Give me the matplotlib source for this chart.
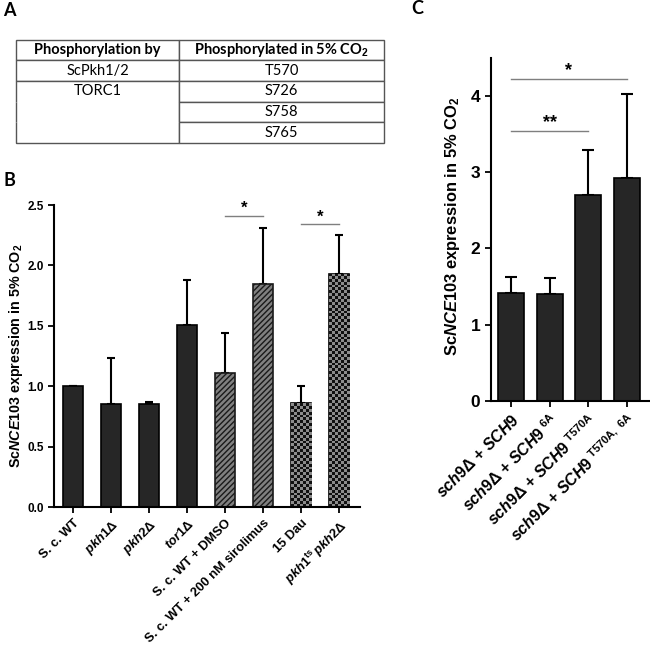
import numpy as np
import matplotlib
matplotlib.use("Agg")
import matplotlib.pyplot as plt
from matplotlib.colors import ListedColormap

# ---------------- data ----------------
tab_header = ["Phosphorylation by", "Phosphorylated in 5% CO$_\\mathrm{2}$"]
tab_kinase = ["ScPkh1/2", "TORC1", "", ""]
tab_sites = ["T570", "S726", "S758", "S765"]

b_labels = ["S. c. WT", r"$\mathit{pkh1Δ}$", r"$\mathit{pkh2Δ}$", r"$\mathit{tor1Δ}$",
            "S. c. WT + DMSO", "S. c. WT + 200 nM sirolimus", "15 Dau",
            r"$\mathit{pkh1}^{\mathsf{ts}}\,\mathit{pkh2Δ}$"]
b_values = [1.00, 0.85, 0.85, 1.51, 1.11, 1.85, 0.86, 1.93]
b_err = [0.00, 0.385, 0.02, 0.37, 0.33, 0.46, 0.145, 0.32]
b_fill = ["solid", "solid", "solid", "solid", "hatch", "hatch", "check", "check"]
b_sig = [(4, 5, 2.41, "*"), (6, 7, 2.34, "*")]
b_yticks = [0.0, 0.5, 1.0, 1.5, 2.0, 2.5]

c_labels = [r"$\mathit{sch9Δ}$ + $\mathit{SCH9}$",
            r"$\mathit{sch9Δ}$ + $\mathit{SCH9}^{\ \mathsf{6A}}$",
            r"$\mathit{sch9Δ}$ + $\mathit{SCH9}^{\ \mathsf{T570A}}$",
            r"$\mathit{sch9Δ}$ + $\mathit{SCH9}^{\ \mathsf{T570A,\ 6A}}$"]
c_values = [1.41, 1.40, 2.70, 2.92]
c_err = [0.22, 0.21, 0.59, 1.11]
c_sig = [(0, 3, 4.22, "*"), (0, 2, 3.54, "**")]
c_yticks = [0, 1, 2, 3, 4]

# ---------------- style ----------------
plt.rcParams["font.family"] = ["Liberation Sans", "DejaVu Sans"]
plt.rcParams["font.weight"] = "bold"
plt.rcParams["mathtext.fontset"] = "custom"
plt.rcParams["mathtext.rm"] = "Liberation Sans:bold"
plt.rcParams["mathtext.it"] = "Liberation Sans:italic:bold"
plt.rcParams["mathtext.bf"] = "Liberation Sans:bold"
plt.rcParams["mathtext.sf"] = "Liberation Sans"
plt.rcParams["hatch.linewidth"] = 1.0

W, H = 650, 646
fig = plt.figure(figsize=(W / 100, H / 100), dpi=100)

DARK = "#262626"
GRAY = "#808080"


def style_axes(ax, lw=1.5):
    for s in ["top", "right"]:
        ax.spines[s].set_visible(False)
    for s in ["left", "bottom"]:
        ax.spines[s].set_linewidth(lw)
    ax.tick_params(direction="out", length=4, width=1.3)


def checker(ax, bar, ncol=7):
    x0 = bar.get_x()
    w = bar.get_width()
    h = bar.get_height()
    p0 = ax.transData.transform((x0, 0))
    p1 = ax.transData.transform((x0 + w, h))
    wpx = p1[0] - p0[0]
    hpx = p1[1] - p0[1]
    nrow = max(1, int(round(hpx / (wpx / ncol))))
    pat = (np.add.outer(np.arange(nrow), np.arange(ncol)) % 2).astype(float)
    im = ax.imshow(pat, extent=(x0, x0 + w, 0, h), cmap=ListedColormap(["#111111", "#8c8c8c"]),
                   interpolation="nearest", aspect="auto", zorder=2.5, origin="lower")
    im.set_clip_path(bar)


def draw_bars(ax, values, err, fills, width, capsize, fontsize_star, sig, star_off):
    x = np.arange(len(values))
    bars = []
    for i, (v, f) in enumerate(zip(values, fills)):
        if f == "solid":
            b = ax.bar(x[i], v, width=width, color=DARK, edgecolor="black", linewidth=1.2, zorder=2)[0]
        elif f == "hatch":
            b = ax.bar(x[i], v, width=width, color=GRAY, edgecolor="#1a1a1a", hatch="//////",
                       linewidth=1.2, zorder=2)[0]
        else:
            b = ax.bar(x[i], v, width=width, color=GRAY, edgecolor="black", linewidth=1.2, zorder=2)[0]
        bars.append(b)
    ax.errorbar(x, values, yerr=[np.zeros(len(values)), err], fmt="none", ecolor="black",
                elinewidth=1.5, capsize=capsize, capthick=1.5, zorder=1.5)
    for a, b, y, s in sig:
        ax.plot([x[a], x[b]], [y, y], color="#7f7f7f", lw=1.0, clip_on=False, zorder=3)
        ax.text((x[a] + x[b]) / 2, y + star_off, s, ha="center", va="bottom",
                fontsize=fontsize_star, fontweight="bold", clip_on=False)
    return x, bars


# ---------------- Panel A: table ----------------
ax_t = fig.add_axes([16 / W, 1 - 143 / H, 368 / W, 103.5 / H])
ax_t.axis("off")
tbl = ax_t.table(cellText=[list(r) for r in zip(tab_kinase, tab_sites)], colLabels=tab_header,
                 colWidths=[0.443, 0.557], cellLoc="center", bbox=[0, 0, 1, 1])
tbl.auto_set_font_size(False)
tbl.set_fontsize(10.5)
for (r, c), cell in tbl.get_celld().items():
    cell.set_edgecolor("#555555")
    cell.set_linewidth(1.0)
    t = cell.get_text()
    t.set_fontfamily(["Lato", "DejaVu Sans"])
    t.set_fontweight("bold" if r == 0 else "normal")
    t.set_fontsize(10.5)
tbl[2, 0].visible_edges = "LRT"
tbl[3, 0].visible_edges = "LR"
tbl[4, 0].visible_edges = "LRB"

# ---------------- Panel B ----------------
axB = fig.add_axes([54 / W, 1 - 507 / H, 306 / W, 302 / H])
style_axes(axB)
axB.set_xlim(-0.5, 7.55)
axB.set_ylim(0, 2.5)
xB, barsB = draw_bars(axB, b_values, b_err, b_fill, 0.53, 3.2, 12, b_sig, 0.0)
for b, f in zip(barsB, b_fill):
    if f == "check":
        checker(axB, b)
axB.set_xlim(-0.5, 7.55)
axB.set_ylim(0, 2.5)
axB.set_yticks(b_yticks)
axB.set_yticklabels([f"{v:.1f}" for v in b_yticks], fontsize=8.5, fontweight="bold")
axB.set_xticks(xB)
axB.set_xticklabels(b_labels, rotation=45, ha="right", rotation_mode="anchor", fontsize=9.3,
                    fontweight="bold")
axB.set_ylabel(r"Sc$\mathit{NCE103}$ expression in 5% CO$_\mathsf{2}$", fontsize=10.3, fontweight="bold")
axB.yaxis.set_label_coords(-0.095, 0.5)

# ---------------- Panel C ----------------
axC = fig.add_axes([490.7 / W, 1 - 400.7 / H, 158.3 / W, 342.7 / H])
style_axes(axC)
axC.set_xlim(-0.525, 3.57)
axC.set_ylim(0, 4.5)
xC, barsC = draw_bars(axC, c_values, c_err, ["solid"] * 4, 0.68, 4.2, 13, c_sig, 0.0)
axC.set_yticks(c_yticks)
axC.set_yticklabels([str(v) for v in c_yticks], fontsize=12.5, fontweight="bold")
axC.set_xticks(xC)
axC.set_xticklabels(c_labels, rotation=45, ha="right", rotation_mode="anchor", fontsize=11.5,
                    fontweight="bold")
axC.set_ylabel(r"Sc$\mathit{NCE103}$ expression in 5% CO$_\mathsf{2}$", fontsize=11.9, fontweight="bold")
axC.yaxis.set_label_coords(-0.181, 0.51)

# ---------------- panel letters ----------------
for lx, ly, s in [(9, 10, "A"), (9, 180, "B"), (417.5, 8.5, "C")]:
    fig.text(lx / W, 1 - ly / H, s, fontsize=13, fontweight="bold", ha="center", va="center",
             family=["Lato", "DejaVu Sans"])

fig.savefig("out.png", dpi=100)
